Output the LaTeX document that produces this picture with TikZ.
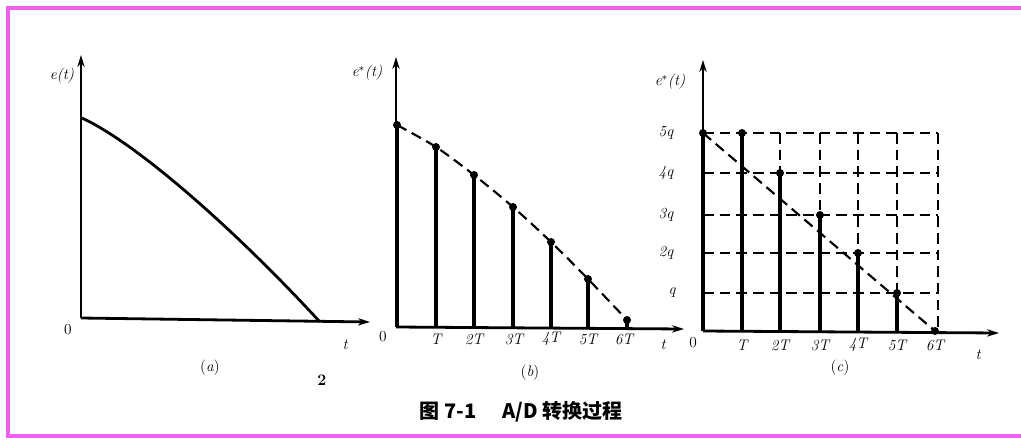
\documentclass[tikz,border=0pt]{standalone}
\usepackage{fontspec}
\newfontfamily\cjk{Noto Sans CJK SC}
\usetikzlibrary{arrows.meta}
\definecolor{framepink}{RGB}{240,95,240}
\begin{document}
\begin{tikzpicture}[x=0.75pt,y=-0.75pt,
  axis/.style={line width=2.1pt,-{Stealth[length=9pt,width=5.5pt]}},
  stem/.style={line width=2.6pt},
  dashline/.style={line width=1.6pt,dash pattern=on 8pt off 4.5pt},
  lbl/.style={font=\fontsize{11.5}{13}\selectfont\itshape,inner sep=0pt},
  num/.style={font=\fontsize{11.5}{13}\selectfont,inner sep=0pt},
  dot/.style={circle,fill,inner sep=0pt,minimum size=6pt}]
\useasboundingbox (0,0) rectangle (1021,440);
\fill[white] (0,0) rectangle (1021,440);
\draw[framepink,line width=2.5pt] (1021,8) -- (8,8) -- (8,436) -- (1021,436);

% ---------- panel (a)
\coordinate (ao) at (81,318);
\coordinate (ay) at (81,55);
\coordinate (ax) at (370,322);
\draw[axis] (ao) -- (ay);
\draw[axis] (ao) -- (ax);
\coordinate (cs) at (82,118);
\coordinate (ce) at (320,322);
\draw[line width=2.1pt] (cs) .. controls (140,145) and (240,235) .. (ce);
\node[lbl] (alab) at (62,76) {e(t)};
\node[num] (a0) at (68,330) {0};
\node[lbl] (at) at (345,345) {t};
\node[num] (acap) at (210,368) {(\textit{a})};
\node[num,font=\fontsize{12}{14}\selectfont\bfseries] (stray) at (322,380) {2};

% ---------- panel (b)
\coordinate (bo) at (396,327);
\coordinate (by) at (396,57);
\coordinate (bx) at (684,329);
\draw[axis] (bo) -- (by);
\draw[axis] (bo) -- (bx);
\foreach \i/\x/\y in {0/397/125,1/436/147,2/474/175,3/513/207,4/551/242,5/588/279,6/627/320}{
  \coordinate (bb\i) at (\x,327);
  \node[dot] (bt\i) at (\x,\y) {};
  \draw[stem] (bb\i) -- (bt\i.center);
}
\draw[dashline] plot[smooth] coordinates {(397,125) (436,147) (474,175) (513,207) (551,242) (588,279) (627,320)};
\node[lbl] (blab) at (367,73) {e$^{*}$(t)};
\node[num] (b0) at (383,337) {0};
\node[lbl] (bT1) at (436,339) {T};
\node[lbl] (bT2) at (474,339) {2T};
\node[lbl] (bT3) at (514,339) {3T};
\node[lbl] (bT4) at (551,339) {4T};
\node[lbl] (bT5) at (588,339) {5T};
\node[lbl] (bT6) at (624,339) {6T};
\node[lbl] (bt) at (663,345) {t};
\node[num] (bcap) at (530,373) {(\textit{b})};

% ---------- panel (c)
\coordinate (co) at (703,331);
\coordinate (cy) at (703,60);
\coordinate (cx) at (999,333);
% grid
\foreach \j/\y in {5/133,4/173,3/215,2/253,1/293}{
  \coordinate (gl\j) at (703,\y);
  \coordinate (gr\j) at (938,\y);
  \draw[dashline] (gl\j) -- (gr\j);
}
\foreach \k/\x in {2/780,3/820,4/858,5/897,6/938}{
  \coordinate (gt\k) at (\x,133);
  \coordinate (gb\k) at (\x,331);
  \draw[dashline] (gt\k) -- (gb\k);
}
\draw[axis] (co) -- (cy);
\draw[axis] (co) -- (cx);
\foreach \i/\x/\y in {0/703/133,1/742/133,2/780/173,3/820/215,4/858/253,5/897/293,6/935/331}{
  \coordinate (cb\i) at (\x,331);
  \node[dot] (ct\i) at (\x,\y) {};
  \draw[stem] (cb\i) -- (ct\i.center);
}
\draw[dashline] (ct0.center) -- (ct6.center);
\node[lbl] (clab) at (670,82) {e$^{*}$(t)};
\node[lbl] (q5) at (666,133) {5q};
\node[lbl] (q4) at (666,173) {4q};
\node[lbl] (q3) at (666,215) {3q};
\node[lbl] (q2) at (666,253) {2q};
\node[lbl] (q1) at (672,293) {q};
\node[num] (c0) at (693,343) {0};
\node[lbl] (cT1) at (742,345) {T};
\node[lbl] (cT2) at (780,345) {2T};
\node[lbl] (cT3) at (820,345) {3T};
\node[lbl] (cT4) at (858,345) {4T};
\node[lbl] (cT5) at (897,345) {5T};
\node[lbl] (cT6) at (935,345) {6T};
\node[lbl] (ct) at (978,355) {t};
\node[num] (ccap) at (840,368) {(\textit{c})};

% ---------- caption
\node[font=\fontsize{15}{17}\selectfont\cjk\bfseries,inner sep=0pt] (caption) at (521,412) {图 7-1\hspace{1.3em}A/D 转换过程};
\end{tikzpicture}
\end{document}
